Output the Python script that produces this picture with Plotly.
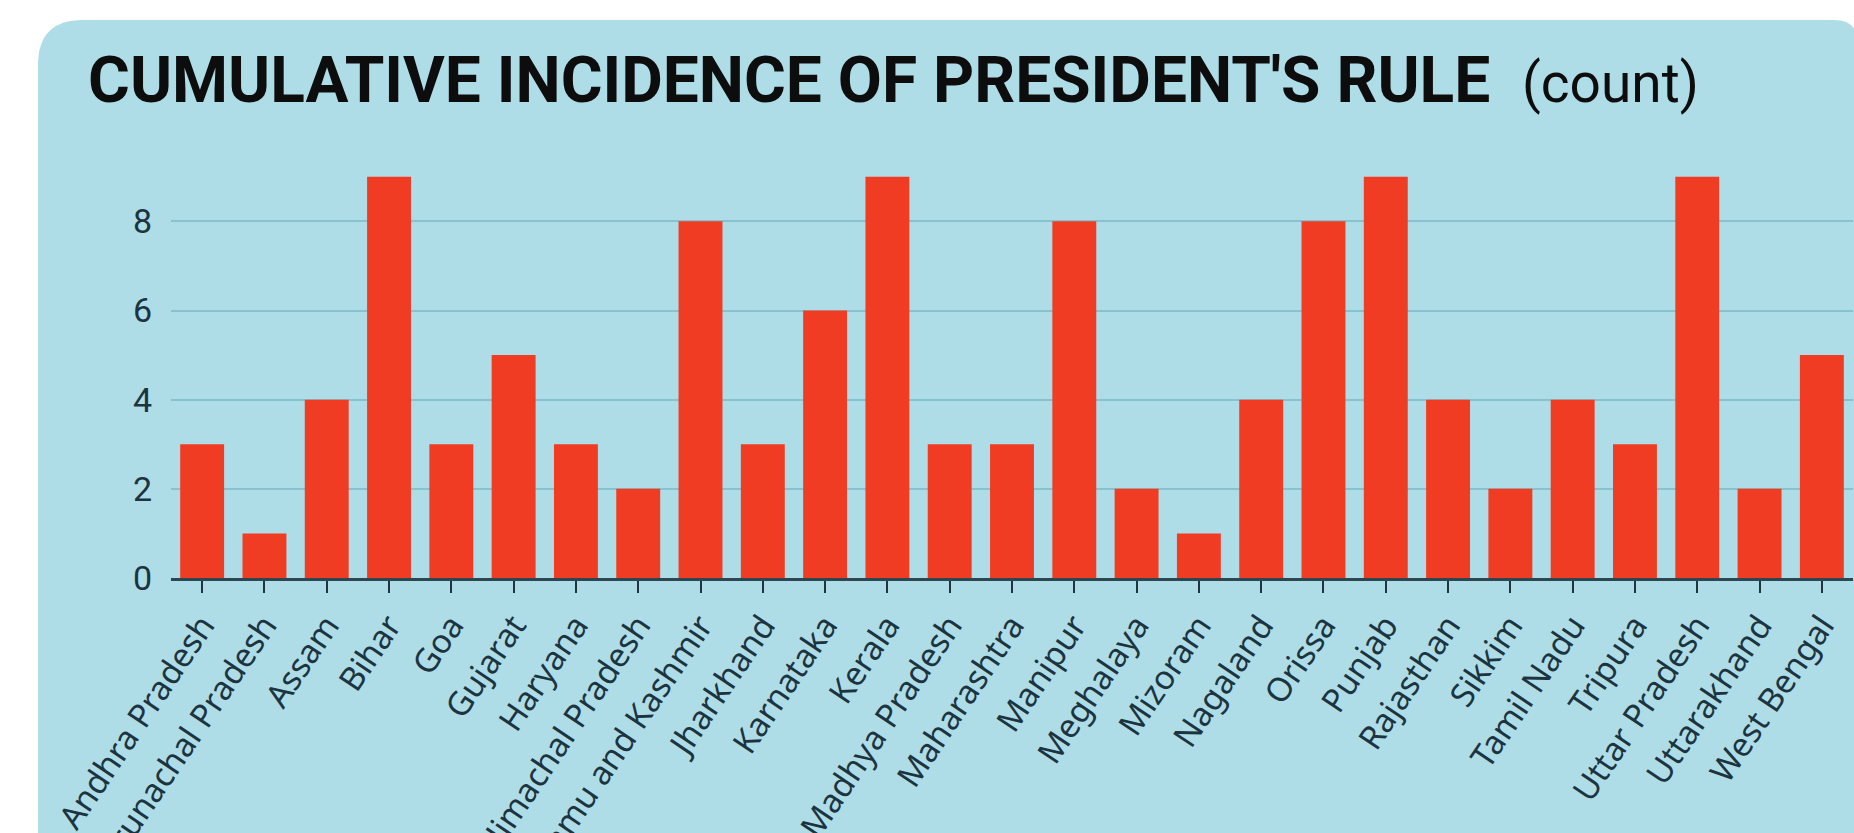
import plotly.graph_objects as go

states = ["Andhra Pradesh", "Arunachal Pradesh", "Assam", "Bihar", "Goa", "Gujarat",
          "Haryana", "Himachal Pradesh", "Jammu and Kashmir", "Jharkhand", "Karnataka",
          "Kerala", "Madhya Pradesh", "Maharashtra", "Manipur", "Meghalaya", "Mizoram",
          "Nagaland", "Orissa", "Punjab", "Rajasthan", "Sikkim", "Tamil Nadu", "Tripura",
          "Uttar Pradesh", "Uttarakhand", "West Bengal"]
counts = [3, 1, 4, 9, 3, 5, 3, 2, 8, 3, 6, 9, 3, 3, 8, 2, 1, 4, 8, 9, 4, 2, 4, 3, 9, 2, 5]
y_ticks = [0, 2, 4, 6, 8]

title_main = "CUMULATIVE INCIDENCE OF PRESIDENT'S RULE"
title_unit = "(count)"

W, H = 1854, 833
L, R, T, B = 171, 1, 150, 255
PW, PH = W - L - R, H - T - B

def px(x):
    return (x - L) / PW

def py(y):
    return (H - B - y) / PH

FONT = "Roboto, Noto Sans, sans-serif"
BG = "#aedde8"
TEXT = "#1c3440"

fig = go.Figure(go.Bar(
    x=states, y=counts,
    marker=dict(color="#f03c23", line=dict(width=0)),
))

# rounded panel
pl, pt, pr, pb = 38, 20, 1858, 900
rl, rr = 45, 24
path = (f"M {px(pl)},{py(pb)} L {px(pl)},{py(pt + rl)} "
        f"Q {px(pl)},{py(pt)} {px(pl + rl)},{py(pt)} "
        f"L {px(pr - rr)},{py(pt)} Q {px(pr)},{py(pt)} {px(pr)},{py(pt + rr)} "
        f"L {px(pr)},{py(pb)} Z")

title_html = (f"<b>{title_main}</b>&nbsp;&nbsp;"
              f"<span style='font-size:55px;font-weight:normal'>{title_unit}</span>")

fig.update_layout(
    width=W, height=H,
    margin=dict(l=L, r=R, t=T, b=B, pad=0, autoexpand=False),
    paper_bgcolor="white",
    plot_bgcolor="rgba(0,0,0,0)",
    bargap=0.295,
    showlegend=False,
    shapes=[dict(type="path", path=path, xref="paper", yref="paper",
                 fillcolor=BG, line=dict(width=0), layer="below")],
    annotations=[
        dict(text=title_html, xref="paper", yref="paper",
             x=px(86), y=py(80), xanchor="left", yanchor="middle", showarrow=False,
             font=dict(family=FONT, size=64, color="#0d0d0d")),
    ],
)

fig.update_xaxes(
    range=[-0.5, len(states) - 0.5], automargin=False,
    showline=True, linecolor="#2c4652", linewidth=3,
    ticks="outside", ticklen=12, tickwidth=2, tickcolor="#1f3640",
    tickangle=-56,
    tickfont=dict(family="Noto Sans, sans-serif", size=33, color=TEXT),
    showgrid=False, zeroline=False, fixedrange=True,
)
fig.update_yaxes(
    range=[0, 9.6], automargin=False,
    tickvals=y_ticks, ticktext=[str(v) for v in y_ticks],
    showgrid=True, gridcolor="#86c2cf", gridwidth=2,
    zeroline=False, showline=False, ticks="",
    ticklabelstandoff=18,
    tickfont=dict(family=FONT, size=34, color=TEXT),
    fixedrange=True,
)

fig.write_html("out.html", config={"displayModeBar": False, "responsive": False},
               post_script="document.body.style.margin='0';")
